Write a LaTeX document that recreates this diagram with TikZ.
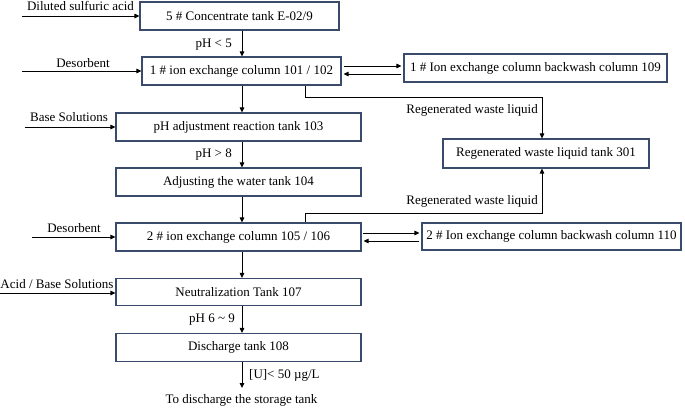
\documentclass[tikz,border=0pt]{standalone}
\usepackage{fontspec}
\setmainfont{Liberation Serif}
\usetikzlibrary{arrows.meta}
\definecolor{boxline}{HTML}{3A4A6A}
\begin{document}
\begin{tikzpicture}[x=1pt,y=-1pt,
  font=\fontsize{13}{15}\selectfont,
  box/.style={draw=boxline,line width=1.1pt,rectangle,inner sep=0pt,align=center},
  arr/.style={-{Triangle[length=5pt,width=4.5pt]},line width=0.9pt},
  ln/.style={line width=0.9pt},
  lab/.style={inner sep=0pt}]
\useasboundingbox (0,0) rectangle (685,408);
% boxes
\node[box,minimum width=199pt,minimum height=28pt] (b1) at (239.5,16) {5 \# Concentrate tank E-02/9};
\node[box,minimum width=199pt,minimum height=28pt] (b2) at (241.5,71) {1 \# ion exchange column 101 / 102};
\node[box,minimum width=263pt,minimum height=28pt] (b109) at (535.5,68) {1 \# Ion exchange column backwash column 109};
\node[box,minimum width=245pt,minimum height=28pt] (b3) at (238.5,127) {pH adjustment reaction tank 103};
\node[box,minimum width=206pt,minimum height=29pt] (b301) at (546,153.5) {Regenerated waste liquid tank 301};
\node[box,minimum width=245pt,minimum height=28pt] (b4) at (238.5,182) {Adjusting the water tank 104};
\node[box,minimum width=245pt,minimum height=28pt] (b5) at (238.5,237) {2 \# ion exchange column 105 / 106};
\node[box,minimum width=259pt,minimum height=27pt] (b110) at (551.5,236.5) {2 \# Ion exchange column backwash column 110};
\node[box,minimum width=245pt,minimum height=27pt] (b6) at (238.5,292) {Neutralization Tank 107};
\node[box,minimum width=245pt,minimum height=28pt] (b7) at (238.5,347.5) {Discharge tank 108};
% main column
\coordinate (ax) at (242,0);
\coordinate (endc) at (242,388);
\draw[arr] (b1.south -| ax) -- (b2.north -| ax);
\draw[arr] (b2.south -| ax) -- (b3.north -| ax);
\draw[arr] (b3.south -| ax) -- (b4.north -| ax);
\draw[arr] (b4.south -| ax) -- (b5.north -| ax);
\draw[arr] (b5.south -| ax) -- (b6.north -| ax);
\draw[arr] (b6.south -| ax) -- (b7.north -| ax);
\draw[arr] (b7.south -| ax) -- (endc);
\node[lab,anchor=east] (l1) at (232,45) {pH < 5};
\node[lab,anchor=east] (l2) at (232,155) {pH > 8};
\node[lab,anchor=east] (l3) at (235,320) {pH 6 \char"007E{} 9};
\node[lab,anchor=west] (l4) at (249,375) {[U]< 50 µg/L};
\node[lab] (out) at (241.5,400.5) {To discharge the storage tank};
% inputs
\coordinate (in1) at (22,16);
\coordinate (in2) at (22,71);
\coordinate (in3) at (25,127);
\coordinate (in5) at (32,237);
\coordinate (in6) at (0,293);
\draw[arr] (in1) -- (b1.west);
\draw[arr] (in2) -- (b2.west);
\draw[arr] (in3) -- (b3.west);
\draw[arr] (in5) -- (b5.west);
\draw[arr] (in6) -- (b6.west |- in6);
\node[lab] (t1) at (80.5,6) {Diluted sulfuric acid};
\node[lab] (t2) at (83,63) {Desorbent};
\node[lab] (t3) at (69,117) {Base Solutions};
\node[lab] (t5) at (74,228) {Desorbent};
\node[lab] (t6) at (57,284) {Acid / Base Solutions};
% backwash arrows
\coordinate (ya) at (0,66);
\coordinate (yb) at (0,74);
\draw[arr,shorten >=2pt] ([xshift=2pt]b2.east |- ya) -- (b109.west |- ya);
\draw[arr,shorten >=2pt] ([xshift=-2pt]b109.west |- yb) -- (b2.east |- yb);
\coordinate (yc) at (0,233);
\coordinate (yd) at (0,241);
\draw[arr,shorten >=2pt] ([xshift=1pt]b5.east |- yc) -- (b110.west |- yc);
\draw[arr,shorten >=2pt] ([xshift=-2pt]b110.west |- yd) -- (b5.east |- yd);
% regenerated waste liquid
\coordinate (r1) at (305,97);
\coordinate (r2) at (542,97);
\draw[arr] (b2.south -| r1) -- (r1) -- (r2) -- (b301.north -| r2);
\node[lab,anchor=east] (rl1) at (538,110) {Regenerated waste liquid};
\coordinate (r3) at (305,213);
\coordinate (r4) at (542,213);
\draw[arr] (b5.north -| r3) -- (r3) -- (r4) -- (b301.south -| r4);
\node[lab,anchor=east] (rl2) at (538,201) {Regenerated waste liquid};
\end{tikzpicture}
\end{document}
